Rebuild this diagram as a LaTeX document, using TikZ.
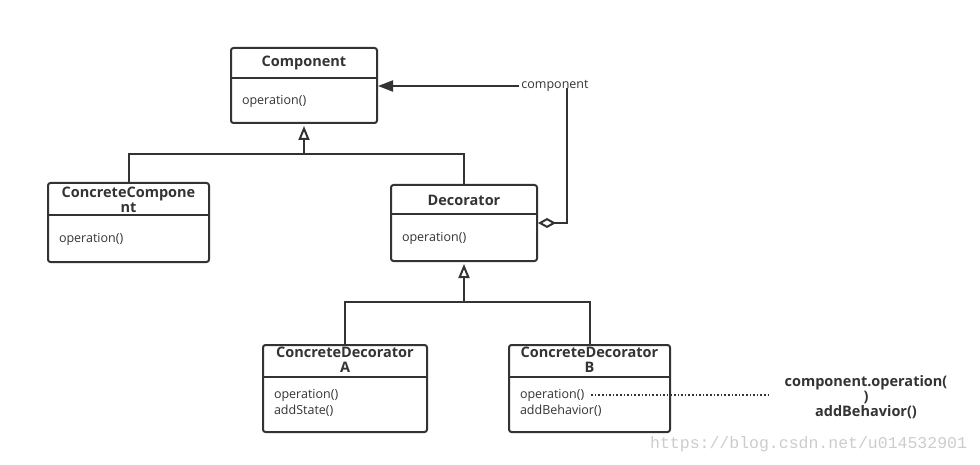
\documentclass[tikz,border=0pt]{standalone}
\usepackage{fontspec}
\setmainfont{Open Sans}
\newfontfamily\wmfont{Liberation Mono}
\usetikzlibrary{arrows.meta,positioning}
\definecolor{ink}{HTML}{333333}
\begin{document}
\begin{tikzpicture}[x=1pt,y=-1pt,line width=2pt,color=ink,
  cls/.style={draw,rounded corners=2.5pt,inner sep=0pt},
  ttl/.style={font=\bfseries\fontsize{14.5}{15}\selectfont,align=center,inner sep=1pt},
  ops/.style={font=\fontsize{12.5}{16}\selectfont,anchor=west,inner sep=0pt},
  inh/.style={-{Triangle[open,length=14pt,width=11pt]},shorten >=2pt},
  agg/.style={{Diamond[open,length=18pt,width=10pt]}-},
  nav/.style={-{Triangle[length=15pt,width=11pt]}}]
\useasboundingbox (0,0) rectangle (980,465);
% classes
\node[cls,minimum width=146,minimum height=75] (comp) at (304,85.5) {};
\node[cls,minimum width=161,minimum height=79] (cc) at (128.5,222.5) {};
\node[cls,minimum width=146,minimum height=76] (dec) at (464,223) {};
\node[cls,minimum width=164,minimum height=87] (da) at (345,388.5) {};
\node[cls,minimum width=161,minimum height=87] (db) at (589.5,388.5) {};
\draw (comp.west |- 0,78) -- (comp.east |- 0,78);
\draw (cc.west |- 0,215) -- (cc.east |- 0,215);
\draw (dec.west |- 0,214) -- (dec.east |- 0,214);
\draw (da.west |- 0,377) -- (da.east |- 0,377);
\draw (db.west |- 0,377) -- (db.east |- 0,377);
\node[ttl] (compt) at (304,63) {Component};
\node[ttl] (cct) at (128.5,199.5) {ConcreteCompone\\nt};
\node[ttl] (dect) at (464,200) {Decorator};
\node[ttl] (dat) at (345,359.5) {ConcreteDecorator\\A};
\node[ttl] (dbt) at (589.5,359.5) {ConcreteDecorator\\B};
\node[ops] (compop) at (241,101) {operation()};
\node[ops] (ccop) at (58,239) {operation()};
\node[ops] (decop) at (401,238) {operation()};
\node[ops] (daop1) at (273,395) {operation()};
\node[ops] (daop2) at (273,411) {addState()};
\node[ops] (dbop1) at (519,395) {operation()};
\node[ops] (dbop2) at (519,411) {addBehavior()};
% note
\node[ttl,inner sep=13pt] (note) at (866,397.5) {component.operation(\\)\\addBehavior()};
\draw[dotted,line width=1.6pt] ([xshift=6pt]dbop1.east) -- (note.west |- dbop1.east);
% inheritance
\coordinate (j1) at (304,154);
\draw (cc.north) |- (j1) -| (dec.north);
\draw[inh] (j1) -- (comp.south);
\coordinate (j2) at (464,302);
\draw (da.north) |- (j2) -| (db.north);
\draw[inh] (j2) -- (dec.south);
% aggregation
\node[font=\fontsize{12.5}{15}\selectfont,inner sep=1pt] (lbl) at (555,86) {component};
\draw[agg] (dec.east) -| ([xshift=12pt,yshift=6pt]lbl.south);
\draw[nav] (lbl.west) -- (lbl.west -| comp.east);
% watermark
\node[font=\wmfont\fontsize{16.5}{18}\selectfont,color=black!20,anchor=east,inner sep=0pt] (wm) at (968,444) {https://blog.csdn.net/u014532901};
\end{tikzpicture}
\end{document}
